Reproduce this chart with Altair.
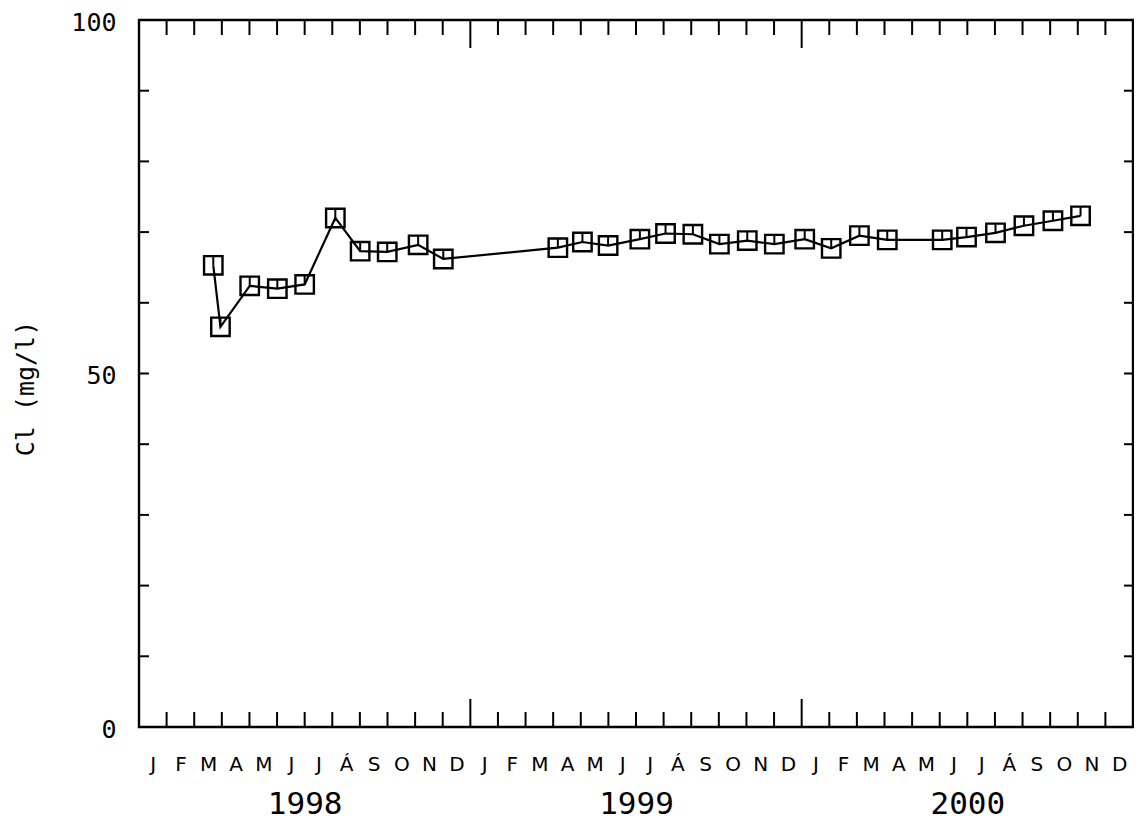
import altair as alt
import pandas as pd

# ---- data ----
month_pos = [2.69, 2.95, 4.01, 5.01, 6.00, 7.11, 8.01, 8.99, 10.11, 11.02,
             15.17, 16.06, 16.99, 18.14, 19.07, 20.06, 21.02, 22.03, 23.01,
             24.11, 25.07, 26.09, 27.10, 29.09, 29.97, 31.02, 32.05, 33.10, 34.10]
cl_values = [65.3, 56.6, 62.4, 62.0, 62.6, 72.0, 67.3, 67.2, 68.2, 66.2,
             67.8, 68.6, 68.1, 69.0, 69.8, 69.7, 68.3, 68.8, 68.3,
             69.0, 67.7, 69.5, 68.9, 68.9, 69.3, 69.9, 70.9, 71.6, 72.3]
month_letters = ["J", "F", "M", "A", "M", "J", "J", "Á", "S", "O", "N", "D"]
years = ["1998", "1999", "2000"]
y_labels = [0, 50, 100]
y_ticks = [10, 20, 30, 40, 50, 60, 70, 80, 90]
minor_bounds = [m for m in range(1, 36) if m % 12 != 0]
major_bounds = [12, 24]

W, H = 994, 707
XDOM = [0, 36]
YDOM = [0, 100]

df = pd.DataFrame({"month": month_pos, "cl": cl_values})
minor_df = pd.DataFrame({"b": minor_bounds})
major_df = pd.DataFrame({"b": major_bounds})
yt_df = pd.DataFrame({"v": y_ticks})

xs = alt.Scale(domain=XDOM, nice=False, zero=False)
ys = alt.Scale(domain=YDOM, nice=False)

letters_js = "[" + ",".join("'%s'" % s for s in month_letters) + "]"
years_js = "[" + ",".join("'%s'" % s for s in years) + "]"

month_axis = alt.Axis(
    values=[m + 0.5 for m in range(36)],
    labelExpr=letters_js + "[floor(datum.value) % 12]",
    ticks=False, tickSize=0, domain=False, grid=False, title=None,
    labelFont="DejaVu Sans", labelFontSize=20, labelPadding=27,
    labelColor="black", labelAngle=0, labelFlush=False, labelOverlap=False,
    orient="bottom",
)
year_axis = alt.Axis(
    values=[6, 18, 30],
    labelExpr=years_js + "[floor(datum.value / 12)]",
    ticks=False, tickSize=0, domain=False, grid=False, title=None,
    labelFont="DejaVu Sans Mono", labelFontSize=31, labelPadding=62,
    labelColor="black", labelAngle=0, labelFlush=False, labelOverlap=False,
    orient="bottom",
)
y_axis = alt.Axis(
    values=y_labels, format="d", orient="left",
    ticks=False, tickSize=0, domain=False, grid=False,
    title="Cl  (mg/l)", titleFont="DejaVu Sans Mono", titleFontSize=25,
    titleFontWeight="normal", titleColor="black",
    titleX=-114, titleY=368, titleBaseline="middle", titleAngle=270,
    labelFont="DejaVu Sans Mono", labelFontSize=25, labelPadding=23,
    labelOffset=2,
    labelColor="black", labelBaseline="middle", labelFlush=False,
)

base = alt.Chart(df)

line = base.mark_line(color="black", strokeWidth=2.2).encode(
    x=alt.X("month:Q", scale=xs, axis=month_axis),
    y=alt.Y("cl:Q", scale=ys, axis=y_axis),
)
points = base.mark_point(shape="square", size=340, filled=False,
                         color="black", strokeWidth=2.4, opacity=1).encode(
    x=alt.X("month:Q", scale=xs, axis=None),
    y=alt.Y("cl:Q", scale=ys, axis=None),
)
inner = base.mark_tick(orient="vertical", size=9, thickness=2,
                       color="black", yOffset=-4.5, opacity=1).encode(
    x=alt.X("month:Q", scale=xs, axis=None),
    y=alt.Y("cl:Q", scale=ys, axis=None),
)

bot_minor = alt.Chart(minor_df).mark_rule(color="black", strokeWidth=2).encode(
    x=alt.X("b:Q", scale=xs, axis=year_axis),
    y=alt.value(H), y2=alt.value(H - 15),
)
bot_major = alt.Chart(major_df).mark_rule(color="black", strokeWidth=2).encode(
    x=alt.X("b:Q", scale=xs, axis=None),
    y=alt.value(H), y2=alt.value(H - 28),
)
top_minor = alt.Chart(minor_df).mark_rule(color="black", strokeWidth=2).encode(
    x=alt.X("b:Q", scale=xs, axis=None),
    y=alt.value(0), y2=alt.value(15),
)
top_major = alt.Chart(major_df).mark_rule(color="black", strokeWidth=2).encode(
    x=alt.X("b:Q", scale=xs, axis=None),
    y=alt.value(0), y2=alt.value(28),
)
left_ticks = alt.Chart(yt_df).mark_rule(color="black", strokeWidth=2).encode(
    y=alt.Y("v:Q", scale=ys, axis=None),
    x=alt.value(0), x2=alt.value(10),
)
right_ticks = alt.Chart(yt_df).mark_rule(color="black", strokeWidth=2).encode(
    y=alt.Y("v:Q", scale=ys, axis=None),
    x=alt.value(W), x2=alt.value(W - 9),
)

chart = alt.layer(
    line, points, inner,
    bot_minor, bot_major, top_minor, top_major, left_ticks, right_ticks,
).resolve_axis(x="independent", y="independent").properties(
    width=W, height=H,
    autosize=alt.AutoSizeParams(type="none"),
    padding={"left": 131, "top": 12, "right": 1, "bottom": 93},
    background="white",
).configure_view(
    stroke="black", strokeWidth=2.4,
).configure_axis(grid=False)

chart.save("out.html", embed_options={"renderer": "svg", "actions": False})
